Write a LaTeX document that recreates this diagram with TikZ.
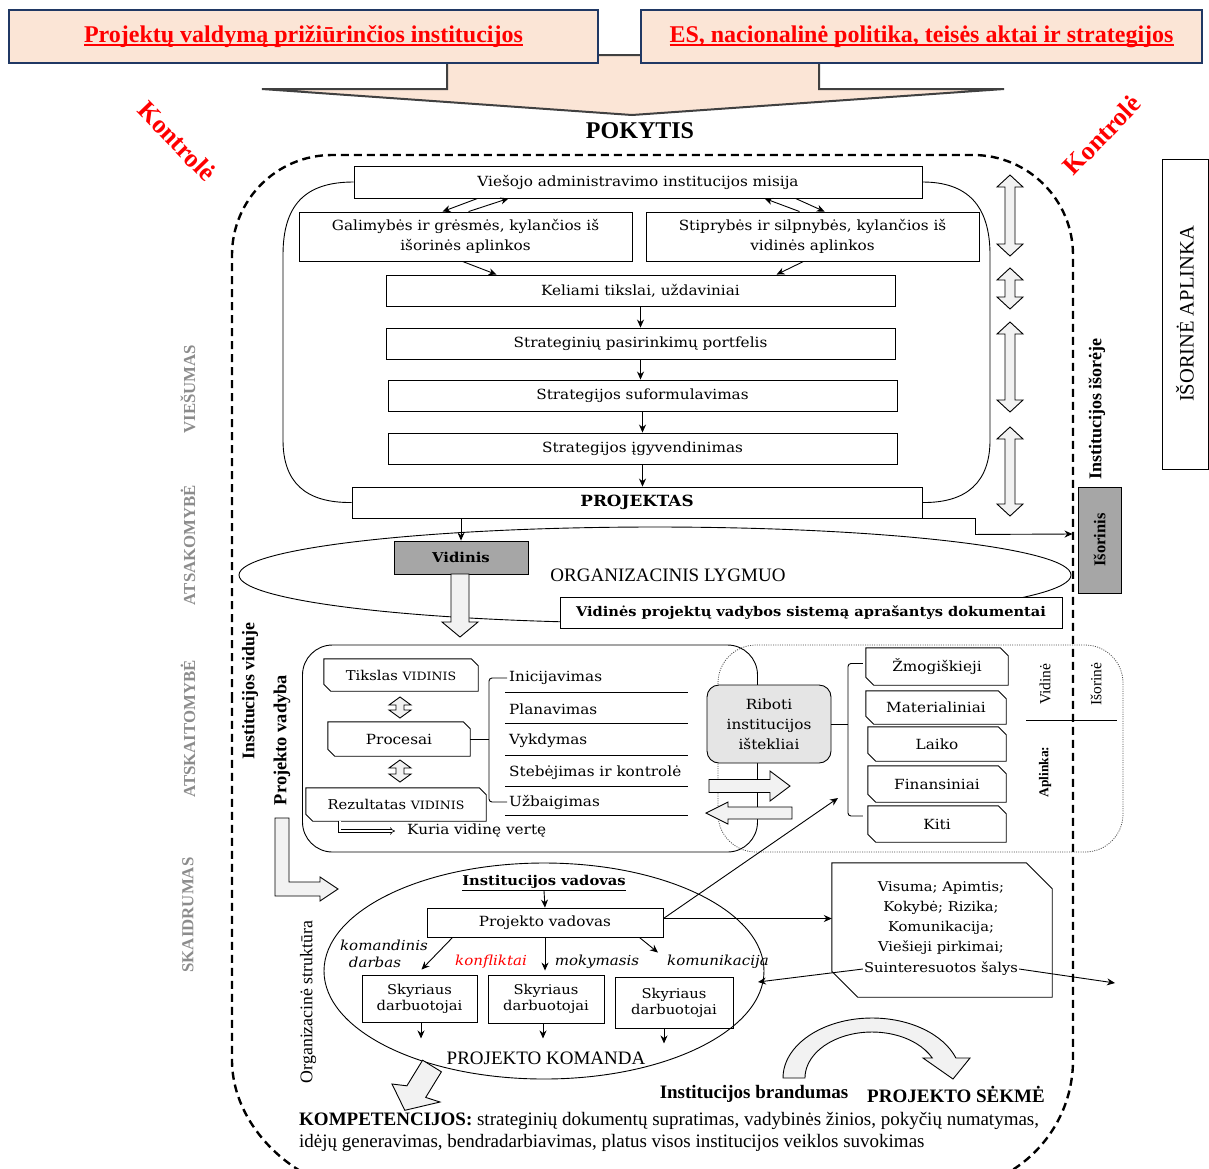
\documentclass[tikz,border=0pt]{standalone}
\usepackage{fontspec}
\setmainfont{Liberation Serif}
\newfontfamily\cs{DejaVu Serif}[FakeStretch=1.09]
\usetikzlibrary{arrows.meta,shapes.geometric}
\definecolor{peach}{HTML}{FBE5D6}
\definecolor{navy}{HTML}{203864}
\definecolor{gbox}{HTML}{A6A6A6}
\definecolor{lgray}{HTML}{F2F2F2}
\definecolor{labgray}{HTML}{8C8C8C}
\definecolor{arrline}{HTML}{404040}
\newcommand\thickul[1]{\setbox0\hbox{#1}\rlap{\rule[-3.8pt]{\wd0}{2pt}}\box0}
\newcommand\cfs[2]{\cs\fontsize{#1}{#2}\selectfont}
\newcommand\tfs[2]{\fontsize{#1}{#2}\selectfont}
\newcommand\vdn{{\cfs{11.5}{14}VIDINIS}}
\tikzset{
 ln/.style={line width=0.9pt},
 bx/.style={draw, line width=0.9pt, inner sep=0pt, align=center, font=\cfs{14}{20}},
 txt/.style={inner sep=0pt, align=center, font=\cfs{14}{20}},
 arr/.style={-{Stealth[length=8pt,width=7pt]}, line width=0.9pt},
 hol/.style={draw, line width=0.9pt, fill=lgray},
 frame/.style={line width=2.4pt, dash pattern=on 8pt off 5pt},
 side/.style={rotate=90, inner sep=0pt, font=\bfseries\tfs{16.8}{18}, text=labgray},
 rtxt/.style={rotate=90, inner sep=0pt},
}
\newcommand\mkbox[7][]{%
 \pgfmathsetmacro\mbw{#5-#3}\pgfmathsetmacro\mbh{#6-#4}%
 \pgfmathsetmacro\mbx{(#3+#5)/2}\pgfmathsetmacro\mby{(#4+#6)/2}%
 \node[bx,minimum width=\mbw pt,minimum height=\mbh pt,#1] (#2) at (\mbx,\mby) {#7};}
\newcommand\mkch[8][]{%
 \pgfmathsetmacro\mbw{#5-#3}\pgfmathsetmacro\mbh{#6-#4}%
 \pgfmathsetmacro\mbx{(#3+#5)/2}\pgfmathsetmacro\mby{(#4+#6)/2}%
 \node[txt,minimum width=\mbw pt,minimum height=\mbh pt,#1] (#2) at (\mbx,\mby) {#8};
 \draw[ln] (#2.north west) -- ([xshift=-#7pt]#2.north east) -- ([yshift=-#7pt]#2.north east) -- (#2.south east) -- ([xshift=#7pt]#2.south west) -- ([yshift=#7pt]#2.south west) -- cycle;}
\newcommand\mkvd[6]{\draw[hol] ({#1-#4},{#2+#6}) -- ({#1-#5},{#2+#6}) -- (#1,#2) -- ({#1+#5},{#2+#6}) -- ({#1+#4},{#2+#6}) -- ({#1+#4},{#3-#6}) -- ({#1+#5},{#3-#6}) -- (#1,#3) -- ({#1-#5},{#3-#6}) -- ({#1-#4},{#3-#6}) -- cycle;}
\newcommand\mkha[6]{\draw[hol] (#1,{#3-#4}) -- ({#2-(#6)},{#3-#4}) -- ({#2-(#6)},{#3-#5}) -- (#2,#3) -- ({#2-(#6)},{#3+#5}) -- ({#2-(#6)},{#3+#4}) -- (#1,{#3+#4}) -- cycle;}
\newcommand\mkdn[6]{\draw[hol] ({#1-#4},#2) -- ({#1-#4},{#3-#6}) -- ({#1-#5},{#3-#6}) -- (#1,#3) -- ({#1+#5},{#3-#6}) -- ({#1+#4},{#3-#6}) -- ({#1+#4},#2) -- cycle;}
\begin{document}
\begin{tikzpicture}[x=1pt,y=-1pt]
\fill[white] (0,0) rectangle (1209,1168);
\useasboundingbox (0,0) rectangle (1209,1168);
% big dashed frame
\draw[frame] (232,700) -- (232,255) .. controls (232,199.8) and (276.8,155) .. (332,155) -- (973,155) .. controls (1028.2,155) and (1073,199.8) .. (1073,255) -- (1073,1060) .. controls (1073,1131.8) and (1014.8,1190) .. (943,1190) -- (362,1190) .. controls (303.8,1190) and (232,1131.8) .. (232,1060) -- cycle;
% top arrow and boxes
\draw[fill=peach, draw=arrline, line width=2pt] (447,55) -- (447,89) -- (262,89) -- (632,115) -- (1004,89) -- (819,89) -- (819,55) -- cycle;
\node[draw=navy, fill=peach, line width=2.4pt, minimum width=589pt, minimum height=53pt, inner sep=0pt, text=red, font=\bfseries\tfs{24}{26}] (t1) at (303.5,36.5) {\thickul{Projektų valdymą prižiūrinčios institucijos}};
\node[draw=navy, fill=peach, line width=2.4pt, minimum width=561pt, minimum height=53pt, inner sep=0pt, text=red, font=\bfseries\tfs{24}{26}] (t2) at (921.5,36.5) {\thickul{ES, nacionalinė politika, teisės aktai ir strategijos}};
\node[font=\bfseries\tfs{24}{26}, inner sep=0pt] (pok) at (640,131) {POKYTIS};
\node[rotate=-46, text=red, font=\bfseries\tfs{26}{28}, inner sep=0pt] (k1) at (177,141) {Kontrolė};
\node[rotate=46, text=red, font=\bfseries\tfs{26}{28}, inner sep=0pt] (k2) at (1102,135) {Kontrolė};
% strategic block
\mkbox{mis}{354}{166}{922}{198}{Viešojo administravimo institucijos misija}
\mkbox{gal}{299}{212}{632}{261}{Galimybės ir grėsmės, kylančios iš\\išorinės aplinkos}
\mkbox{stip}{646}{212}{979}{261}{Stiprybės ir silpnybės, kylančios iš\\vidinės aplinkos}
\mkbox{kel}{386}{275}{895}{306}{Keliami tikslai, uždaviniai}
\mkbox{str}{386}{328}{895}{359}{Strateginių pasirinkimų portfelis}
\mkbox{suf}{388}{380}{897}{411}{Strategijos suformulavimas}
\mkbox{igy}{388}{433}{897}{464}{Strategijos įgyvendinimas}
\mkbox[font=\cs\bfseries\tfs{15.4}{17}]{proj}{352}{487}{922}{518}{PROJEKTAS}
\draw[ln] (mis.west) .. controls (305,182) and (283,205) .. (283,255) -- (283,440) .. controls (283,482) and (305,503) .. (proj.west);
\draw[ln] (mis.east) .. controls (967,182) and (990,205) .. (990,255) -- (990,440) .. controls (990,482) and (967,503) .. (proj.east);
\draw[arr] ([xshift=124pt]mis.south west) -- ([xshift=144pt]gal.north west);
\draw[arr] ([xshift=170pt]gal.north west) -- ([xshift=155pt]mis.south west);
\draw[arr] ([xshift=154pt]stip.north west) -- ([xshift=411pt]mis.south west);
\draw[arr] ([xshift=442pt]mis.south west) -- ([xshift=179pt]stip.north west);
\draw[arr] ([xshift=164pt]gal.south west) -- ([xshift=111pt]kel.north west);
\draw[arr] ([xshift=158pt]stip.south west) -- ([xshift=391pt]kel.north west);
\draw[arr] (kel.south) -- (str.north);
\draw[arr] (str.south) -- (str.south |- suf.north);
\draw[arr] (suf.south) -- (igy.north);
\draw[arr] (igy.south) -- (igy.south |- proj.north);
% right double arrows
\mkvd{1010}{175}{256}{5}{13}{12}
\mkvd{1010}{268}{309}{5}{13}{12}
\mkvd{1010}{322}{412}{5}{13}{12}
\mkvd{1010}{427}{516}{5}{13}{12}
% right side
\node[draw, line width=1pt, minimum width=46pt, minimum height=310pt, inner sep=0pt] (isap) at (1185,314) {};
\node[rtxt, font=\tfs{20.5}{22}] (isapt) at (isap) {IŠORINĖ APLINKA};
\node[rtxt, font=\bfseries\tfs{18}{20}] (isor) at (1097,409) {Institucijos išorėje};
\node[draw, fill=gbox, line width=1pt, minimum width=43pt, minimum height=106pt, inner sep=0pt] (isb) at (1099.5,540) {};
\node[rtxt, font=\bfseries\tfs{16.5}{18}] (isbt) at (isb) {Išorinis};
\draw[arr] (proj.south east) -- ++(53,0) -- ++(0,16) -- ([xshift=-5pt,yshift=6pt]isb.west);
% organizational level
\node[draw, ln, ellipse, minimum width=832pt, minimum height=96pt, inner sep=0pt] (orgl) at (655,575) {};
\mkbox[fill=gbox, font=\cs\bfseries\tfs{13.6}{15}]{vid}{394}{541}{528}{574}{Vidinis}
\draw[arr] (proj.south -| vid) -- (vid.north);
\node[font=\tfs{19}{20}, inner sep=0pt] (orgt) at (668,575) {ORGANIZACINIS LYGMUO};
\mkbox[fill=white, font=\cs\bfseries\tfs{13.4}{15}]{vdoc}{560}{597}{1062}{628}{Vidinės projektų vadybos sistemą aprašantys dokumentai}
\mkdn{460}{574}{637}{9}{18}{15}
% left labels
\node[side] (l1) at (188,389) {VIEŠUMAS};
\node[side] (l2) at (188,545) {ATSAKOMYBĖ};
\node[side] (l3) at (188,729) {ATSKAITOMYBĖ};
\node[side] (l4) at (188,915) {SKAIDRUMAS};
\node[rtxt, font=\bfseries\tfs{17.8}{19}] (ivid) at (250,691) {Institucijos viduje};
\node[rtxt, font=\bfseries\tfs{18.4}{20}] (pvad) at (282,740) {Projekto vadyba};
\draw[hol] (275,818) -- (275,896) -- (320,896) -- (320,901) -- (338,889) -- (320,877) -- (320,882) -- (289,882) -- (289,818) -- cycle;
% project management block
\draw[line width=0.8pt, dash pattern=on 1pt off 1.3pt, black!70, rounded corners=38pt] (718,645) rectangle (1123,852);
\node[draw, ln, rounded corners=30pt, minimum width=455pt, minimum height=207pt, inner sep=0pt] (pvbox) at (530,748.5) {};
\mkch[font=\cfs{13.5}{15}]{tik}{324}{659}{478}{691}{7}{Tikslas \vdn}
\mkch{proc}{328}{722}{470}{756}{7}{Procesai}
\mkch[font=\cfs{13.5}{15}]{rez}{306}{788}{486}{821}{7}{Rezultatas \vdn}
\mkvd{400}{697}{718}{4}{11}{8}
\mkvd{400}{760}{782}{4}{11}{8}
\node[txt, anchor=west] (p1) at (509,678) {Inicijavimas};
\node[txt, anchor=west] (p2) at (509,709) {Planavimas};
\node[txt, anchor=west] (p3) at (509,741) {Vykdymas};
\node[txt, anchor=west] (p4) at (509,773) {Stebėjimas ir kontrolė};
\node[txt, anchor=west] (p5) at (509,802) {Užbaigimas};
\draw[ln] (505,692) -- (688,692) (505,723) -- (688,723) (505,755) -- (688,755) (505,786) -- (688,786) (505,815) -- (688,815);
\coordinate (brk) at (489,740);
\draw[ln] (proc.east) -- (proc.east -| brk);
\draw[ln, rounded corners=3pt] ([xshift=-2pt]p1.west) -- (p1.west -| brk) -- (p5.west -| brk) -- ([xshift=-2pt]p5.west);
\node[txt, anchor=west] (kuria) at (407,831) {Kuria vidinę vertę};
\draw[double, double distance=2pt, line width=0.6pt, -{Implies}] ([xshift=34pt]rez.south west) |- ([xshift=-12pt]kuria.west);
\node[draw, ln, fill=gray!20, rounded corners=12pt, minimum width=124pt, minimum height=78pt, inner sep=0pt, align=center, font=\cfs{14}{20}] (rib) at (769,724) {Riboti\\institucijos\\ištekliai};
\mkha{709}{790}{786}{6.5}{15}{20}
\mkha{792}{706}{813}{6}{11}{-22}
\mkch{r1}{866}{648}{1008}{685}{8}{Žmogiškieji}
\mkch{r2}{866}{691}{1006}{724}{8}{Materialiniai}
\mkch{r3}{868}{727}{1006}{761}{8}{Laiko}
\mkch{r4}{868}{766}{1006}{802}{8}{Finansiniai}
\mkch{r5}{868}{806}{1006}{842}{8}{Kiti}
\coordinate (rb) at (848,740);
\draw[ln] (rib.east) -- (rib.east -| rb);
\draw[ln, rounded corners=3pt] ([xshift=-3pt,yshift=3pt]r1.west) -- ([yshift=3pt]r1.west -| rb) -- ([yshift=8pt]r5.west -| rb) -- ([xshift=-5pt,yshift=8pt]r5.west);
\node[rtxt, font=\tfs{15.5}{17}] (vidn) at (1045,684) {Vidinė};
\node[rtxt, font=\tfs{15.5}{17}] (isrn) at (1096,684) {Išorinė};
\draw[ln] (1026,720) -- (1117,720);
\node[rtxt, font=\bfseries\tfs{13.5}{15}] (apl) at (1045,772) {Aplinka:};
% organisational structure
\node[draw, ln, ellipse, minimum width=440pt, minimum height=216pt, inner sep=0pt] (oell) at (544,971) {};
\node[txt, font=\cs\bfseries\tfs{13.5}{15}] (ivad) at (544,883) {\underline{Institucijos vadovas}};
\mkbox[fill=white]{pv}{427}{908}{663}{937}{Projekto vadovas}
\draw[arr] (ivad.south) -- (pv.north);
\mkbox[font=\cfs{13.5}{16}]{s1}{362}{975}{477}{1022}{Skyriaus\\darbuotojai}
\mkbox[font=\cfs{13.5}{16}]{s2}{488}{975}{604}{1023}{Skyriaus\\darbuotojai}
\mkbox[font=\cfs{13.5}{16}]{s3}{615}{977}{733}{1028}{Skyriaus\\darbuotojai}
\draw[arr] ([xshift=26pt]pv.south west) -- ([xshift=2pt,yshift=5pt]s1.north);
\draw[arr] (pv.south) -- ([yshift=4pt]pv.south |- s2.north);
\draw[arr] ([xshift=-24pt]pv.south east) -- ([xshift=-16pt,yshift=24pt]s3.north);
\draw[arr] ([xshift=1.5pt]s1.south) -- ++(0,16);
\draw[arr] ([xshift=-3pt]s2.south) -- ++(0,15);
\draw[arr] ([xshift=-10pt]s3.south) -- ++(0,15);
\node[txt, font=\cs\itshape\tfs{13.8}{15}] (lk1) at (384,945) {komandinis};
\node[txt, font=\cs\itshape\tfs{13.8}{15}] (lk2) at (375,962) {darbas};
\node[txt, font=\cs\itshape\tfs{13.8}{15}, text=red] (lk3) at (491,962) {konfliktai};
\node[txt, font=\cs\itshape\tfs{13.8}{15}] (lk4) at (597,962) {mokymasis};
\node[txt, font=\cs\itshape\tfs{13.8}{15}] (lk5) at (718,962) {komunikacija};
\node[font=\tfs{19}{20}, inner sep=0pt] (pk) at (546,1058) {PROJEKTO KOMANDA};
\node[rtxt, font=\tfs{17.8}{19}] (ostr) at (308,1002) {Organizacinė struktūra};
% Visuma box
\mkch{vis}{832}{863}{1052}{997}{26}{}
\node[txt, font=\cfs{13.5}{20}] (vist) at (941,918) {Visuma; Apimtis;\\Kokybė; Rizika;\\Komunikacija;\\Viešieji pirkimai;};
\node[txt, fill=white, inner xsep=1pt, font=\cfs{13.5}{20}] (sui) at (941,969) {Suinteresuotos šalys};
\draw[arr] ([yshift=4pt]pv.east) -- ([yshift=4pt]pv.east -| vis.west);
\coordinate (rt) at (838,798);
\draw[arr] ([yshift=4pt]pv.east) -- (rt);
\coordinate (kl) at (758,982);
\coordinate (kr) at (1115,983);
\draw[arr] (sui.west) -- (kl);
\draw[arr] (sui.east) -- (kr);
% bottom arrows
\draw[hol] (422.6,1060.2) -- (441.4,1071.8) -- (425.7,1097.4) -- (440,1102) -- (404.8,1110.3) -- (392,1084) -- (406.9,1085.8) -- cycle;
\draw[hol] (783,1078) arc[start angle=180, end angle=340.5, x radius=89, y radius=60] -- (970,1058) -- (953,1079) -- (923,1058) -- (932.3,1058) arc[start angle=334.2, end angle=180, x radius=67, y radius=46] -- cycle;
\node[font=\bfseries\tfs{19}{20}, inner sep=0pt] (brand) at (754,1094) {Institucijos brandumas};
\node[font=\bfseries\tfs{19}{20}, inner sep=0pt] (sek) at (956,1094) {PROJEKTO SĖKMĖ};
\node[anchor=west, font=\tfs{19}{20}, inner sep=0pt] (komp1) at (299,1121) {\textbf{KOMPETENCIJOS:} strateginių dokumentų supratimas, vadybinės žinios, pokyčių numatymas,};
\node[anchor=west, font=\tfs{19}{20}, inner sep=0pt] (komp2) at (299,1143) {idėjų generavimas, bendradarbiavimas, platus visos institucijos veiklos suvokimas};
\end{tikzpicture}
\end{document}
